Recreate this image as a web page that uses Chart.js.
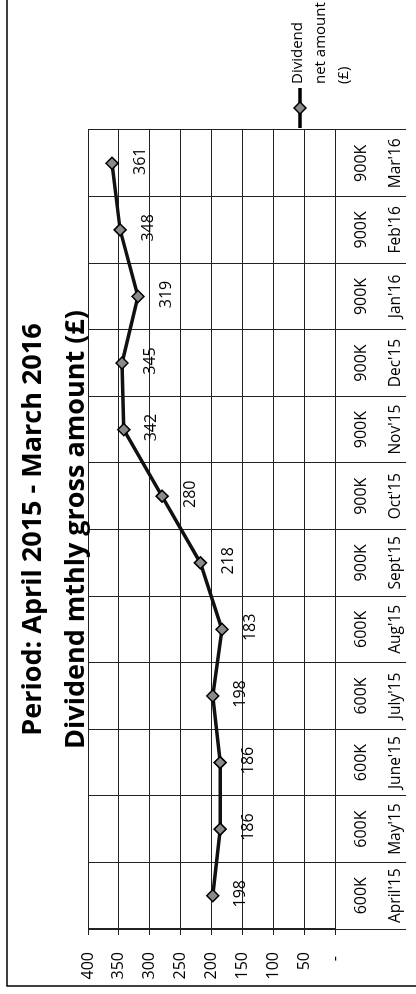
<!DOCTYPE html>
<html>
<head>
<meta charset="utf-8">
<script src="https://cdn.jsdelivr.net/npm/chart.js@4.4.1/dist/chart.umd.min.js"></script>
<style>
  html, body { margin: 0; padding: 0; overflow: hidden; background: #fff; }
  /* the scanned chart is turned on its side */
  #wrap {
    position: absolute; left: 0; top: 0;
    width: 994px; height: 416px;
    transform-origin: 0 0;
    transform: translate(0, 994px) rotate(-90deg);
  }
</style>
</head>
<body>
<div id="wrap"><canvas id="divChart" width="994" height="416"></canvas></div>
<script>
// months along the bottom
const months = ["April'15", "May'15", "June'15", "July'15", "Aug'15", "Sept'15",
                "Oct'15", "Nov'15", "Dec'15", "Jan'16", "Feb'16", "Mar'16"];
// dividend net amount (£) per month
const netAmount = [198, 186, 186, 198, 183, 218, 280, 342, 345, 319, 348, 361];
// row of the table under the chart
const tableRow = ['600K', '600K', '600K', '600K', '600K', '900K',
                  '900K', '900K', '900K', '900K', '900K', '900K'];
// value axis
const yMin = 0, yMax = 400, yStep = 50;

const titleLines = ['Period: April 2015 - March 2016', 'Dividend mthly gross amount (£)'];
const legendLines = ['Dividend', 'net amount', '(£)'];

const FONT = "'Open Sans', 'DejaVu Sans', sans-serif";

// labels, table text, legend and frame
const extras = {
    id: 'extras',
    beforeDraw(chart) {
        const ctx = chart.ctx;
        ctx.save();
        ctx.fillStyle = '#fff';
        ctx.fillRect(0, 0, chart.width, chart.height);
        ctx.strokeStyle = '#000';
        ctx.lineWidth = 1.5;
        ctx.strokeRect(8, 7, 1100, 600);
        ctx.restore();
    },
    afterDatasetsDraw(chart) {
        const ctx = chart.ctx;
        const meta = chart.getDatasetMeta(0);
        ctx.save();
        ctx.font = '16px ' + FONT;
        ctx.fillStyle = '#000';
        ctx.textAlign = 'center';
        ctx.textBaseline = 'middle';
        meta.data.forEach((pt, i) => {
            ctx.fillText(String(netAmount[i]), pt.x + 2, pt.y + 28);
        });
        ctx.restore();
    },
    afterDraw(chart) {
        const ctx = chart.ctx;
        const xs = chart.scales.x;
        const area = chart.chartArea;
        ctx.save();
        ctx.fillStyle = '#000';
        ctx.textAlign = 'center';
        ctx.textBaseline = 'middle';
        months.forEach((m, i) => {
            const x = xs.getPixelForValue(i);
            ctx.font = '16px ' + FONT;
            ctx.fillText(tableRow[i], x, area.bottom + 26);
            ctx.font = '15.5px ' + FONT;
            ctx.fillText(m, x, area.bottom + 61);
        });

        // legend
        const lx = area.right + 2, ly = 300;
        ctx.strokeStyle = '#000';
        ctx.lineWidth = 3.5;
        ctx.beginPath();
        ctx.moveTo(lx, ly);
        ctx.lineTo(lx + 40, ly);
        ctx.stroke();
        ctx.fillStyle = '#8a8a8a';
        ctx.lineWidth = 1.5;
        ctx.beginPath();
        ctx.moveTo(lx + 20, ly - 6);
        ctx.lineTo(lx + 26, ly);
        ctx.lineTo(lx + 20, ly + 6);
        ctx.lineTo(lx + 14, ly);
        ctx.closePath();
        ctx.fill();
        ctx.stroke();
        ctx.fillStyle = '#000';
        ctx.font = '15px ' + FONT;
        ctx.textAlign = 'left';
        legendLines.forEach((t, i) => ctx.fillText(t, lx + 44, ly - 2 + i * 23));
        ctx.restore();
    }
};

const config = {
    type: 'line',
    data: {
        labels: months,
        datasets: [{
            label: 'Dividend net amount (£)',
            data: netAmount,
            borderColor: '#111',
            borderWidth: 3.5,
            tension: 0,
            pointStyle: 'rectRot',
            pointRadius: 6,
            pointBackgroundColor: '#8a8a8a',
            pointBorderColor: '#000',
            pointBorderWidth: 1.5
        }]
    },
    options: {
        responsive: false,
        animation: false,
        layout: { padding: { left: 0, right: 130, top: 0, bottom: 0 } },
        plugins: {
            legend: { display: false },
            tooltip: { enabled: false },
            title: {
                display: true,
                fullSize: false,
                text: titleLines,
                color: '#000',
                font: { family: FONT, size: 27, weight: 'bold', lineHeight: '43px' },
                padding: { top: 12, bottom: -10 }
            }
        },
        scales: {
            x: {
                type: 'category',
                offset: true,
                grid: { offset: true, color: '#222', lineWidth: 1, tickLength: 71 },
                border: { color: '#222' },
                ticks: { display: false },
                afterFit: s => { s.height = 81; }
            },
            y: {
                min: yMin,
                max: yMax,
                grid: { color: '#222', lineWidth: 1, tickLength: 6 },
                border: { color: '#222' },
                ticks: {
                    stepSize: yStep,
                    padding: 17,
                    color: '#000',
                    font: { family: FONT, size: 16 },
                    callback: v => v === 0 ? '- ' : v
                },
                afterFit: s => { s.width = 65; }
            }
        }
    },
    plugins: [extras]
};

window.onload = function() {
    const ctx = document.getElementById('divChart').getContext('2d');
    new Chart(ctx, config);
};
</script>
</body>
</html>
